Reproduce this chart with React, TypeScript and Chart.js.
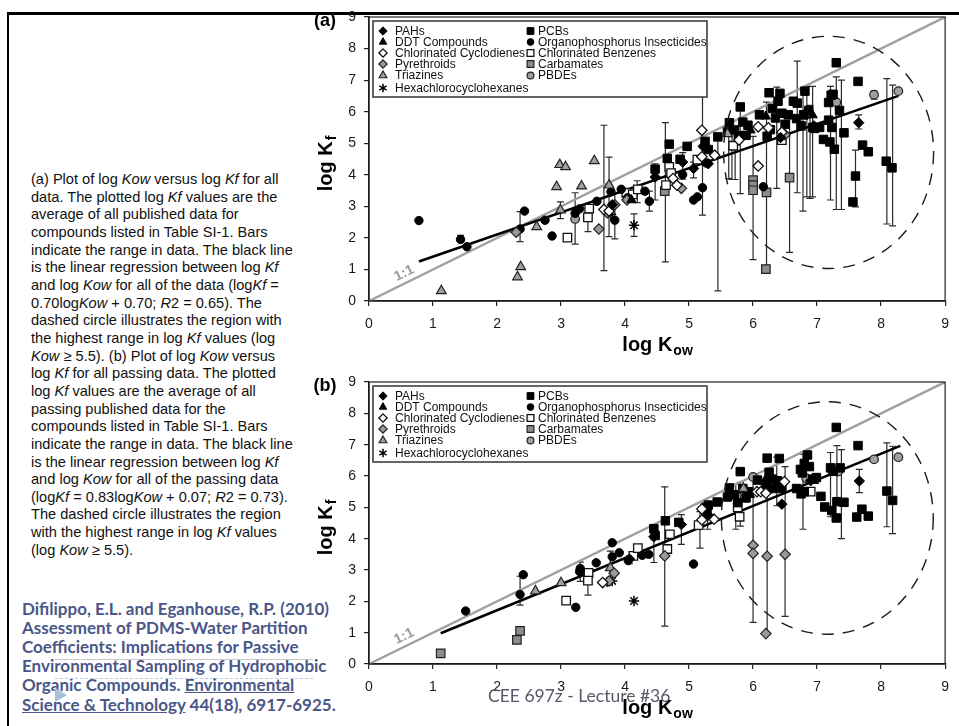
import React, { useEffect, useRef } from "react";
import { Chart, registerables } from "chart.js";

Chart.register(...registerables);

type P = [number, number];
type E = [number, number, number];

// ---------- axes ----------
const AXIS_MIN = 0;
const AXIS_MAX = 9;
const AXIS_STEP = 1;

// ---------- lines ----------
const ONE_TO_ONE: P[] = [[0, 0], [9, 9]];
const A_REG: P[] = [[0.78, 1.25], [8.27, 6.5]];
const B_REG: P[] = [[1.12, 0.98], [8.3, 6.96]];

// dashed circle (data units): centre x, centre y, half-width, half-height
const A_CIRCLE = [7.18, 4.71, 1.64, 3.68];
const B_CIRCLE = [7.16, 4.66, 1.655, 3.71];

// ---------- (a) all data ----------
const A_PAHS: P[] = [[3.8, 3.05], [4.47, 3.93], [4.9, 4.4], [5.07, 4.2], [5.22, 4.9], [5.3, 4.35], [6.43, 5.18], [6.95, 5.55], [7.65, 5.65]];
const A_DDT: P[] = [[4.1, 3.2], [5.96, 5.41], [6.2, 5.85], [6.93, 5.89]];
const A_CYCLO: P[] = [[3.67, 2.9], [3.75, 2.85], [4.75, 3.88], [4.81, 3.67], [5.2, 4.57], [5.2, 5.41], [5.4, 4.62], [5.78, 5.1], [6.08, 4.28], [6.08, 5.52], [6.24, 5.49], [6.45, 5.35]];
const A_PYR: P[] = [[2.3, 2.18], [3.59, 2.28], [3.72, 2.8], [3.84, 3.05], [4.03, 3.2], [4.88, 3.57], [6.5, 5.27]];
const A_TRIAZ: P[] = [[1.13, 0.32], [2.32, 0.76], [2.37, 1.08], [2.62, 2.35], [2.93, 3.62], [2.98, 4.32], [3.07, 4.25], [2.99, 2.88], [3.32, 3.64], [3.52, 4.44], [3.75, 3.67], [5.6, 5.3]];
const A_HCH: P[] = [[4.14, 2.4], [3.78, 2.75]];
const A_PCB: P[] = [
  [4.47, 4.18], [4.66, 4.52], [4.69, 4.97], [4.86, 4.49], [4.97, 4.9], [5.25, 5.06], [5.3, 4.8], [5.45, 5.2],
  [5.6, 5.36], [5.63, 5.65], [5.71, 5.42], [5.77, 5.24], [5.8, 6.15], [5.84, 5.67], [5.89, 5.25], [5.92, 5.57],
  [6.1, 5.9], [6.22, 5.22], [6.25, 6.6], [6.27, 5.43], [6.3, 6.1], [6.35, 5.8], [6.39, 6.33], [6.42, 6.58], [6.45, 5.95], [6.5, 5.6], [6.55, 5.9],
  [6.63, 6.33], [6.68, 5.78], [6.69, 6.27], [6.75, 5.55], [6.79, 5.9], [6.81, 6.65], [6.87, 6.04], [6.93, 5.5], [6.96, 5.47], [7.04, 5.5], [7.1, 5.12],
  [7.18, 5.73], [7.18, 6.29], [7.22, 6.52], [7.23, 5.5], [7.2, 5.04], [7.25, 6.55], [7.27, 4.81], [7.3, 7.55], [7.35, 6.04], [7.42, 5.33],
  [7.64, 6.96], [7.71, 4.94], [7.8, 4.73], [7.6, 3.96], [7.56, 3.14], [8.08, 4.43], [8.17, 4.22],
];
const A_OP: P[] = [[0.78, 2.55], [1.43, 1.95], [1.53, 1.72], [2.36, 2.28], [2.43, 2.85], [2.75, 2.56], [2.86, 2.06], [3.22, 2.78], [3.29, 2.92], [3.56, 3.16], [3.78, 3.46], [3.84, 2.56], [3.94, 3.54], [4.04, 3.27], [4.31, 3.48], [4.38, 3.16], [4.9, 4.0], [5.07, 3.2], [5.13, 3.3], [5.21, 3.59], [5.27, 4.37], [6.16, 3.62]];
const A_CLBENZ: P[] = [[3.1, 2.01], [3.44, 2.93], [3.42, 2.65], [4.02, 3.43], [4.12, 3.38], [4.2, 3.54], [4.64, 3.67], [4.69, 4.25], [4.72, 4.05], [5.13, 4.48], [5.69, 4.92], [6.45, 5.1]];
const A_CARB: P[] = [[4.62, 3.48], [6.0, 3.83], [6.0, 3.67], [6.0, 3.51], [6.21, 3.44], [6.2, 1.01], [6.57, 3.91]];
const A_PBDE: P[] = [[3.22, 2.6], [6.83, 5.9], [7.3, 6.3], [7.89, 6.54], [8.27, 6.65]];
// range bars: x, low, high
const A_ERR: E[] = [
  [1.43, 1.95, 2.08], [2.36, 1.88, 2.83], [2.99, 2.61, 3.14], [3.22, 1.8, 3.43], [3.42, 2.2, 2.93], [3.67, 0.96, 5.57],
  [3.75, 2.04, 4.56], [3.84, 1.97, 3.41], [4.14, 2.05, 2.76], [4.19, 3.12, 3.81], [4.38, 2.85, 3.48], [4.47, 3.2, 4.35],
  [4.63, 1.24, 5.65], [4.9, 3.86, 4.7], [5.07, 3.9, 4.4], [5.21, 2.72, 7.15], [5.45, 0.32, 5.25], [5.62, 3.88, 5.36],
  [5.67, 3.85, 5.5], [5.72, 3.85, 5.45], [5.8, 3.4, 6.2], [6.0, 1.31, 5.22], [6.21, 1.13, 6.3], [6.37, 3.57, 6.78],
  [6.57, 1.54, 5.85], [6.69, 3.43, 7.6], [6.78, 2.85, 6.7], [6.84, 3.3, 6.8], [6.89, 3.25, 6.2], [6.93, 3.3, 6.8],
  [7.21, 3.2, 6.8], [7.3, 2.9, 7.1], [7.38, 2.9, 7.0], [7.6, 2.98, 4.78], [7.65, 5.45, 5.9], [7.89, 6.4, 6.65],
  [8.09, 2.44, 7.05], [8.18, 2.38, 6.84],
];

// ---------- (b) passing data ----------
const B_PAHS: P[] = [[4.07, 3.35], [4.45, 4.06], [4.88, 4.45], [5.3, 4.75], [6.45, 5.1], [6.9, 5.85], [7.66, 5.84]];
const B_DDT: P[] = [[5.95, 5.4], [6.2, 5.9], [6.95, 5.85]];
const B_CYCLO: P[] = [[3.65, 2.6], [5.2, 4.95], [5.2, 4.6], [5.39, 4.62], [6.06, 5.5], [6.12, 5.5], [6.2, 5.45], [6.49, 5.82]];
const B_PYR: P[] = [[3.75, 2.65], [3.83, 2.9], [4.62, 3.45], [6.0, 3.79], [6.0, 3.53], [6.22, 3.44], [6.2, 0.97], [6.5, 3.5]];
const B_TRIAZ: P[] = [[2.6, 2.33], [3.0, 2.59], [3.77, 3.07], [5.85, 5.6]];
const B_HCH: P[] = [[3.8, 2.65], [3.72, 2.62], [4.14, 2.01]];
const B_PCB: P[] = [
  [4.45, 4.32], [4.47, 4.1], [4.63, 4.57], [4.84, 4.52], [5.26, 5.0], [5.28, 4.85], [5.3, 5.07], [5.44, 5.17],
  [5.6, 5.33], [5.63, 5.62], [5.71, 5.4], [5.76, 5.15], [5.8, 6.14], [5.84, 5.6], [5.89, 5.3], [5.93, 5.5],
  [6.07, 5.87], [6.22, 6.57], [6.25, 6.12], [6.3, 5.9], [6.41, 6.56], [6.2, 5.7], [6.3, 5.6], [6.38, 5.85], [6.45, 5.6],
  [6.74, 6.21], [6.77, 6.1], [6.85, 6.67], [6.8, 6.4], [6.88, 6.3], [6.93, 5.9], [6.99, 5.95], [6.75, 5.43], [6.8, 5.5], [6.68, 5.6],
  [7.06, 5.35], [7.12, 5.01], [7.21, 6.26], [7.25, 6.15], [7.23, 4.9], [7.31, 5.18], [7.3, 4.66], [7.3, 7.55], [7.36, 6.26], [7.42, 5.16],
  [7.64, 6.97], [7.62, 4.69], [7.7, 4.94], [7.8, 4.72], [8.09, 5.52], [8.18, 5.22],
];
const B_OP: P[] = [[1.51, 1.69], [2.36, 2.22], [2.41, 2.85], [3.23, 1.81], [3.3, 3.05], [3.29, 2.95], [3.55, 3.23], [3.8, 3.87], [3.8, 3.42], [3.91, 3.55], [4.05, 3.3], [4.27, 3.47], [4.37, 3.5], [5.07, 3.19]];
const B_CLBENZ: P[] = [[3.08, 2.02], [3.43, 2.91], [3.42, 2.66], [4.13, 3.45], [4.2, 3.7], [4.7, 4.14], [4.66, 3.67], [5.15, 4.43], [5.76, 5.0], [5.79, 4.7], [6.9, 5.5]];
const B_CARB: P[] = [[1.12, 0.34], [2.31, 0.77], [2.36, 1.06]];
const B_PBDE: P[] = [[6.0, 5.97], [6.83, 5.93], [7.33, 6.14], [7.89, 6.53], [8.27, 6.6]];
const B_ERR: E[] = [
  [2.36, 1.88, 2.8], [3.3, 2.64, 3.25], [3.42, 2.2, 2.91], [3.77, 2.7, 3.6], [4.07, 3.2, 3.45], [4.45, 3.24, 4.45],
  [4.62, 1.21, 5.65], [4.88, 3.82, 4.77], [5.17, 3.7, 4.86], [5.29, 4.3, 5.2], [5.73, 4.3, 5.73], [5.8, 4.4, 5.8],
  [6.0, 1.33, 5.97], [6.22, 0.98, 5.85], [6.37, 5.05, 6.6], [6.5, 1.52, 6.3], [6.78, 4.3, 6.7], [7.21, 4.7, 6.75],
  [7.31, 5.1, 6.97], [7.38, 4.0, 6.84], [7.66, 5.47, 6.21], [8.09, 4.38, 7.06], [8.18, 4.16, 6.95],
];

// ---------- series styling ----------
type Style = { label: string; shape: string; fill: string; stroke: string; r: number; bw: number };
const S_PAHS: Style = { label: "PAHs", shape: "rectRot", fill: "#000", stroke: "#000", r: 5.2, bw: 1 };
const S_DDT: Style = { label: "DDT Compounds", shape: "triangle", fill: "#000", stroke: "#000", r: 5.4, bw: 1 };
const S_CYCLO: Style = { label: "Chlorinated Cyclodienes", shape: "rectRot", fill: "#fff", stroke: "#111", r: 5.2, bw: 1.3 };
const S_PYR: Style = { label: "Pyrethroids", shape: "rectRot", fill: "#999", stroke: "#222", r: 5.2, bw: 1.2 };
const S_TRIAZ: Style = { label: "Triazines", shape: "triangle", fill: "#a0a0a0", stroke: "#222", r: 5.6, bw: 1.2 };
const S_HCH: Style = { label: "Hexachlorocyclohexanes", shape: "star", fill: "#000", stroke: "#000", r: 5.2, bw: 1.5 };
const S_PCB: Style = { label: "PCBs", shape: "rect", fill: "#000", stroke: "#000", r: 6, bw: 1 };
const S_OP: Style = { label: "Organophosphorus Insecticides", shape: "circle", fill: "#000", stroke: "#000", r: 4.2, bw: 1 };
const S_CLBENZ: Style = { label: "Chlorinated Benzenes", shape: "rect", fill: "#fff", stroke: "#111", r: 6, bw: 1.3 };
const S_CARB: Style = { label: "Carbamates", shape: "rect", fill: "#8c8c8c", stroke: "#222", r: 6, bw: 1.2 };
const S_PBDE: Style = { label: "PBDEs", shape: "circle", fill: "#a0a0a0", stroke: "#222", r: 4.3, bw: 1.2 };

const LEGEND_COL1 = [S_PAHS, S_DDT, S_CYCLO, S_PYR, S_TRIAZ, S_HCH];
const LEGEND_COL2 = [S_PCB, S_OP, S_CLBENZ, S_CARB, S_PBDE];

const FONT = "'Liberation Sans', Arial, Helvetica, sans-serif";

function drawMarker(ctx: CanvasRenderingContext2D, s: Style, x: number, y: number, scale = 1) {
  const r = s.r * scale;
  ctx.save();
  ctx.beginPath();
  ctx.fillStyle = s.fill;
  ctx.strokeStyle = s.stroke;
  ctx.lineWidth = s.bw;
  if (s.shape === "circle") ctx.arc(x, y, r, 0, Math.PI * 2);
  else if (s.shape === "rect") {
    const h = r * Math.SQRT1_2;
    ctx.rect(x - h, y - h, 2 * h, 2 * h);
  } else if (s.shape === "rectRot") {
    ctx.moveTo(x, y - r);
    ctx.lineTo(x + r, y);
    ctx.lineTo(x, y + r);
    ctx.lineTo(x - r, y);
    ctx.closePath();
  } else if (s.shape === "triangle") {
    for (let i = 0; i < 3; i++) {
      const a = (i * 2 * Math.PI) / 3;
      const px = x + Math.sin(a) * r;
      const py = y - Math.cos(a) * r;
      if (i === 0) ctx.moveTo(px, py);
      else ctx.lineTo(px, py);
    }
    ctx.closePath();
  } else if (s.shape === "star") {
    for (let i = 0; i < 3; i++) {
      const a = (i * Math.PI) / 3 + Math.PI / 2;
      ctx.moveTo(x - Math.cos(a) * r, y - Math.sin(a) * r);
      ctx.lineTo(x + Math.cos(a) * r, y + Math.sin(a) * r);
    }
    ctx.stroke();
    ctx.restore();
    return;
  }
  ctx.fill();
  ctx.stroke();
  ctx.restore();
}

type PanelData = {
  tag: string;
  series: [Style, P[]][];
  err: E[];
  reg: P[];
  circle: number[];
  top: number;
  height: number;
  padTop: number;
  xAxisH: number;
};

const PANEL_A: PanelData = {
  tag: "(a)",
  series: [
    [S_PAHS, A_PAHS], [S_DDT, A_DDT], [S_CYCLO, A_CYCLO], [S_PYR, A_PYR], [S_TRIAZ, A_TRIAZ], [S_HCH, A_HCH],
    [S_PCB, A_PCB], [S_OP, A_OP], [S_CLBENZ, A_CLBENZ], [S_CARB, A_CARB], [S_PBDE, A_PBDE],
  ],
  err: A_ERR,
  reg: A_REG,
  circle: A_CIRCLE,
  top: 0,
  height: 360,
  padTop: 17,
  xAxisH: 59,
};

const PANEL_B: PanelData = {
  tag: "(b)",
  series: [
    [S_PAHS, B_PAHS], [S_DDT, B_DDT], [S_CYCLO, B_CYCLO], [S_PYR, B_PYR], [S_TRIAZ, B_TRIAZ], [S_HCH, B_HCH],
    [S_PCB, B_PCB], [S_OP, B_OP], [S_CLBENZ, B_CLBENZ], [S_CARB, B_CARB], [S_PBDE, B_PBDE],
  ],
  err: B_ERR,
  reg: B_REG,
  circle: B_CIRCLE,
  top: 360,
  height: 366,
  padTop: 22,
  xAxisH: 62,
};

function makePlugin(p: PanelData) {
  return {
    id: "panelDecor",
    beforeDatasetsDraw(chart: any) {
      const { ctx } = chart;
      const xs = chart.scales.x;
      const ys = chart.scales.y;
      ctx.save();
      ctx.strokeStyle = "#2a2a2a";
      ctx.lineWidth = 1.2;
      for (const [x, lo, hi] of p.err) {
        const px = xs.getPixelForValue(x);
        const y1 = ys.getPixelForValue(lo);
        const y2 = ys.getPixelForValue(hi);
        ctx.beginPath();
        ctx.moveTo(px, y1);
        ctx.lineTo(px, y2);
        ctx.moveTo(px - 3.5, y1);
        ctx.lineTo(px + 3.5, y1);
        ctx.moveTo(px - 3.5, y2);
        ctx.lineTo(px + 3.5, y2);
        ctx.stroke();
      }
      ctx.restore();
    },
    afterDatasetsDraw(chart: any) {
      const { ctx } = chart;
      const xs = chart.scales.x;
      const ys = chart.scales.y;
      // dashed circle
      const [cxv, cyv, rxv, ryv] = p.circle;
      const cx = xs.getPixelForValue(cxv);
      const cy = ys.getPixelForValue(cyv);
      const rx = xs.getPixelForValue(cxv + rxv) - cx;
      const ry = cy - ys.getPixelForValue(cyv + ryv);
      ctx.save();
      ctx.strokeStyle = "#1a1a1a";
      ctx.lineWidth = 1.4;
      ctx.setLineDash([12, 9]);
      ctx.beginPath();
      ctx.ellipse(cx, cy, rx, ry, 0, 0, Math.PI * 2);
      ctx.stroke();
      ctx.restore();
      // 1:1 label
      const x0 = xs.getPixelForValue(ONE_TO_ONE[0][0]);
      const y0 = ys.getPixelForValue(ONE_TO_ONE[0][1]);
      const x1 = xs.getPixelForValue(ONE_TO_ONE[1][0]);
      const y1 = ys.getPixelForValue(ONE_TO_ONE[1][1]);
      const ang = Math.atan2(y1 - y0, x1 - x0);
      ctx.save();
      ctx.translate(xs.getPixelForValue(0.55), ys.getPixelForValue(0.88));
      ctx.rotate(ang);
      ctx.fillStyle = "#9a9a9a";
      ctx.font = `bold 14px ${FONT}`;
      ctx.textAlign = "center";
      ctx.textBaseline = "middle";
      ctx.fillText("1:1", 0, 0);
      ctx.restore();
    },
    afterDraw(chart: any) {
      const { ctx, chartArea: a } = chart;
      // frame
      ctx.save();
      ctx.strokeStyle = "#222";
      ctx.lineWidth = 1.2;
      ctx.strokeRect(a.left, a.top, a.right - a.left, a.bottom - a.top);
      ctx.restore();

      // legend
      const bx = a.left + 4;
      const by = a.top + 4;
      const rows = [10, 21, 32, 43, 54.5, 67];
      ctx.save();
      ctx.fillStyle = "#fff";
      ctx.fillRect(bx, by, 334, 76);
      ctx.strokeStyle = "#333";
      ctx.lineWidth = 1.5;
      ctx.strokeRect(bx, by, 334, 76);
      ctx.font = `12px ${FONT}`;
      ctx.textBaseline = "middle";
      ctx.textAlign = "left";
      LEGEND_COL1.forEach((s, i) => {
        drawMarker(ctx, s, bx + 10, by + rows[i], 0.8);
        ctx.fillStyle = "#111";
        ctx.fillText(s.label, bx + 22, by + rows[i] + 0.5);
      });
      LEGEND_COL2.forEach((s, i) => {
        drawMarker(ctx, s, bx + 157.5, by + rows[i], 0.8);
        ctx.fillStyle = "#111";
        ctx.fillText(s.label, bx + 165, by + rows[i] + 0.5);
      });
      ctx.restore();

      // x title
      ctx.save();
      ctx.fillStyle = "#000";
      ctx.textBaseline = "alphabetic";
      ctx.textAlign = "left";
      ctx.font = `bold 20px ${FONT}`;
      const w1 = ctx.measureText("log K").width;
      ctx.font = `bold 14px ${FONT}`;
      const w2 = ctx.measureText("ow").width;
      const tx = (a.left + a.right) / 2 - (w1 + w2) / 2;
      const ty = a.bottom + 50;
      ctx.font = `bold 20px ${FONT}`;
      ctx.fillText("log K", tx, ty);
      ctx.font = `bold 14px ${FONT}`;
      ctx.fillText("ow", tx + w1 + 1, ty + 4);
      ctx.restore();

      // y title
      ctx.save();
      ctx.fillStyle = "#000";
      ctx.font = `bold 20px ${FONT}`;
      const v1 = ctx.measureText("log K").width;
      ctx.font = `bold 14px ${FONT}`;
      const v2 = ctx.measureText("f").width;
      ctx.translate(32, (a.top + a.bottom) / 2 + 5);
      ctx.rotate(-Math.PI / 2);
      ctx.textAlign = "left";
      ctx.textBaseline = "alphabetic";
      ctx.font = `bold 20px ${FONT}`;
      ctx.fillText("log K", -(v1 + v2) / 2, 0);
      ctx.font = `bold 14px ${FONT}`;
      ctx.fillText("f", -(v1 + v2) / 2 + v1 + 1, 4);
      ctx.restore();

      // panel tag
      ctx.save();
      ctx.fillStyle = "#000";
      ctx.font = `bold 18px ${FONT}`;
      ctx.textAlign = "center";
      ctx.textBaseline = "middle";
      ctx.fillText(p.tag, 25, a.top + 4);
      ctx.restore();
    },
  };
}

function buildConfig(p: PanelData): any {
  const datasets: any[] = p.series.map(([s, pts]) => ({
    label: s.label,
    data: pts.map(([x, y]) => ({ x, y })),
    pointStyle: s.shape,
    pointRadius: s.r,
    backgroundColor: s.fill,
    borderColor: s.stroke,
    borderWidth: s.bw,
    showLine: false,
    order: 1,
  }));
  datasets.push({
    label: "regression",
    data: p.reg.map(([x, y]) => ({ x, y })),
    showLine: true,
    borderColor: "#000",
    borderWidth: 2.6,
    pointRadius: 0,
    order: 4,
  });
  datasets.push({
    label: "1:1",
    data: ONE_TO_ONE.map(([x, y]) => ({ x, y })),
    showLine: true,
    borderColor: "#a0a0a0",
    borderWidth: 2.4,
    pointRadius: 0,
    order: 5,
  });
  const tickFont = { family: FONT, size: 14 };
  return {
    type: "scatter",
    data: { datasets },
    options: {
      animation: false,
      responsive: false,
      devicePixelRatio: 1,
      events: [],
      layout: { padding: { top: p.padTop, right: 5, left: 0, bottom: 0 } },
      plugins: { legend: { display: false }, tooltip: { enabled: false }, title: { display: false } },
      scales: {
        x: {
          type: "linear",
          min: AXIS_MIN,
          max: AXIS_MAX,
          ticks: { stepSize: AXIS_STEP, color: "#1a1a1a", font: tickFont, padding: 10, maxRotation: 0 },
          grid: { drawOnChartArea: false, drawTicks: true, tickLength: 5, color: "#222", lineWidth: 1.2 },
          border: { display: true, color: "#111", width: 1.4 },
          afterFit: (s: any) => {
            s.height = p.xAxisH;
          },
        },
        y: {
          type: "linear",
          min: AXIS_MIN,
          max: AXIS_MAX,
          ticks: { stepSize: AXIS_STEP, color: "#1a1a1a", font: tickFont, padding: 8 },
          grid: { drawOnChartArea: false, drawTicks: true, tickLength: 5, color: "#222", lineWidth: 1.2 },
          border: { display: true, color: "#111", width: 1.4 },
          afterFit: (s: any) => {
            s.width = 69;
          },
        },
      },
    },
    plugins: [makePlugin(p)],
  };
}

function Panel({ p }: { p: PanelData }) {
  const ref = useRef<HTMLCanvasElement>(null);
  useEffect(() => {
    const chart = new Chart(ref.current as HTMLCanvasElement, buildConfig(p));
    return () => chart.destroy();
  }, []);
  return (
    <canvas
      ref={ref}
      width={659}
      height={p.height}
      style={{ position: "absolute", left: 300, top: p.top, width: 659, height: p.height, display: "block" }}
    />
  );
}

// ---------- caption text ----------
const CAPTION_LINES = [
  "(a) Plot of log *Kow* versus log *Kf* for all",
  "data. The plotted log *Kf* values are the",
  "average of all published data for",
  "compounds listed in Table SI-1. Bars",
  "indicate the range in data. The black line",
  "is the linear regression between log *Kf*",
  "and log *Kow* for all of the data (log*Kf* =",
  "0.70log*Kow* + 0.70; *R*2 = 0.65). The",
  "dashed circle illustrates the region with",
  "the highest range in log *Kf* values (log",
  "*Kow* ≥ 5.5). (b) Plot of log *Kow* versus",
  "log *Kf* for all passing data. The plotted",
  "log *Kf* values are the average of all",
  "passing published data for the",
  "compounds listed in Table SI-1. Bars",
  "indicate the range in data. The black line",
  "is the linear regression between log *Kf*",
  "and log *Kow* for all of the passing data",
  "(log*Kf* = 0.83log*Kow* + 0.07; *R*2 = 0.73).",
  "The dashed circle illustrates the region",
  "with the highest range in log *Kf* values",
  "(log *Kow* ≥ 5.5).",
];

function renderLine(s: string, key: number) {
  const parts = s.split("*");
  return (
    <div key={key}>
      {parts.map((t, i) => (i % 2 === 1 ? <i key={i}>{t}</i> : <span key={i}>{t}</span>))}
    </div>
  );
}

export default function App() {
  return (
    <div style={{ position: "fixed", left: 0, top: 0, width: 959, height: 726, background: "#fff", overflow: "hidden" }}>
      {/* slide frame */}
      <div style={{ position: "absolute", left: 6.5, top: 12, width: 953, height: 2.7, background: "#000" }} />
      <div style={{ position: "absolute", left: 6.5, top: 12, width: 2.3, height: 714, background: "#000" }} />

      <div
        style={{
          position: "absolute",
          left: 31,
          top: 171,
          fontFamily: FONT,
          fontSize: 14.6,
          lineHeight: "17.65px",
          color: "#111",
          whiteSpace: "pre",
        }}
      >
        {CAPTION_LINES.map((l, i) => renderLine(l, i))}
      </div>

      <div
        style={{
          position: "absolute",
          left: 22,
          top: 598.5,
          fontFamily: "Lato, 'Open Sans', sans-serif",
          fontWeight: 700,
          fontSize: 17,
          lineHeight: "19.2px",
          color: "#4a5788",
          whiteSpace: "pre",
        }}
      >
        <div>Difilippo, E.L. and Eganhouse, R.P. (2010)</div>
        <div>Assessment of PDMS-Water Partition</div>
        <div>Coefficients: Implications for Passive</div>
        <div>Environmental Sampling of Hydrophobic</div>
        <div>
          Organic Compounds. <span style={{ textDecoration: "underline" }}>Environmental</span>
        </div>
        <div>
          <span style={{ textDecoration: "underline" }}>Science &amp; Technology</span> 44(18), 6917-6925.
        </div>
      </div>
      <div style={{ position: "absolute", left: 55, top: 659, width: 258, height: 1, background: "#c9c9c9" }} />
      <div style={{ position: "absolute", left: 55, top: 678, width: 258, height: 0, borderTop: "1px dashed #b8cbe3" }} />
      <div
        style={{
          position: "absolute",
          left: 55,
          top: 688,
          width: 0,
          height: 0,
          borderLeft: "12px solid #a9c0dc",
          borderTop: "7.5px solid transparent",
          borderBottom: "7.5px solid transparent",
        }}
      />

      <Panel p={PANEL_A} />
      <Panel p={PANEL_B} />

      <div
        style={{
          position: "absolute",
          left: 488,
          top: 685,
          fontFamily: "Lato, 'Open Sans', sans-serif",
          fontSize: 17.5,
          lineHeight: "22px",
          color: "#585868",
          whiteSpace: "pre",
          zIndex: 5,
        }}
      >
        CEE 697z - Lecture #36
      </div>
    </div>
  );
}
